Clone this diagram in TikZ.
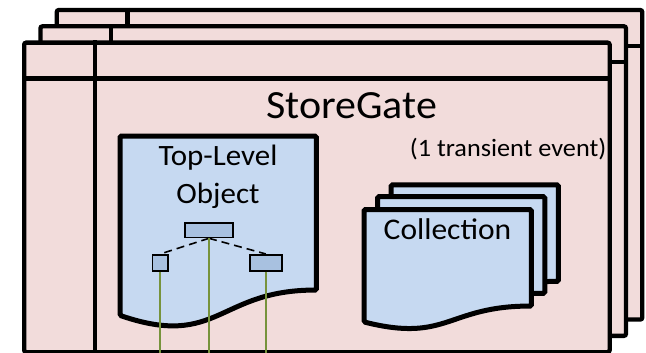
\documentclass[tikz,border=0pt]{standalone}
\usepackage{fontspec}
\setmainfont{Carlito}[FakeStretch=1.05]
\usetikzlibrary{positioning,calc}
\definecolor{sgpink}{RGB}{242,220,219}
\definecolor{docblue}{RGB}{198,217,241}
\definecolor{keyblue}{RGB}{168,193,224}
\definecolor{linkgreen}{RGB}{119,147,60}

% wavy document outline around a named (empty) node
\newcommand{\wavedoc}[1]{%
  \filldraw[doc] (#1.north west) -- (#1.north east)
    -- ($(#1.north east)!0.802!(#1.south east)$)
    .. controls ($(#1.north)!0.802!(#1.south)$) and ($(#1.north)!1.1075!(#1.south)$)
    .. ($(#1.north west)!0.934!(#1.south west)$) -- cycle;}

\begin{document}
\begin{tikzpicture}[
    x=1pt, y=-1pt,
    frame/.style={draw, fill=sgpink, line width=4.3pt, rounded corners=2pt, minimum width=585.5pt, minimum height=309.5pt, anchor=north west, inner sep=0pt},
    divider/.style={line width=4.3pt},
    sheet/.style={inner sep=0pt, anchor=north west},
    doc/.style={draw, fill=docblue, line width=5pt, rounded corners=1.5pt},
    key/.style={draw, fill=keyblue, line width=1.6pt, inner sep=0pt},
    link/.style={draw=linkgreen, line width=2.3pt},
    tree/.style={dash pattern=on 8pt off 5pt, line width=1.6pt}
]
\useasboundingbox (0,0) rectangle (646,353);

% Stacked events
\node[frame] (back) at (54.6,7.9) {};
\draw[divider] ([xshift=73pt]back.north west) -- ([xshift=73pt]back.south west);
\draw[divider] ([yshift=-38pt]back.north west) -- ([yshift=-38pt]back.north east);

\node[frame] (middle) at (38.3,24.2) {};
\draw[divider] ([xshift=73pt]middle.north west) -- ([xshift=73pt]middle.south west);
\draw[divider] ([yshift=-38pt]middle.north west) -- ([yshift=-38pt]middle.north east);

\node[frame] (front) at (22,40.5) {};
\draw[divider] ([xshift=73pt]front.north west) -- ([xshift=73pt]front.south west);
\draw[divider] ([yshift=-38pt]front.north west) -- ([yshift=-38pt]front.north east);

% Titles
\node[font=\fontsize{40}{48}\selectfont, anchor=base, inner sep=0pt] (title) at (351.5,118.3) {StoreGate};
\node[font=\fontsize{25}{30}\selectfont, anchor=base east, inner sep=0pt] (note) at (606.5,156.5) {(1 transient event)};

% Top-level object
\node[sheet, minimum width=196pt, minimum height=191.7pt] (tlo) at (120,136) {};
\wavedoc{tlo}
\node[font=\fontsize{29.5}{37.6}\selectfont, align=center, anchor=base, inner sep=0pt] (tlotext) at (218,203.3) {Top-Level\\Object};

% Collection
\node[sheet, minimum width=167pt, minimum height=120pt] (coll3) at (391,184.8) {};
\node[sheet, minimum width=167pt, minimum height=120pt] (coll2) at (377.5,196.7) {};
\node[sheet, minimum width=167pt, minimum height=120pt] (coll1) at (364,209.5) {};
\wavedoc{coll3}
\wavedoc{coll2}
\wavedoc{coll1}
\node[font=\fontsize{30}{36}\selectfont, anchor=base, inner sep=0pt] (colltext) at (447.5,239) {Collection};

% Members
\node[key, minimum width=48.4pt, minimum height=14.4pt] (root) at (209,230.3) {};
\node[key, minimum width=15.7pt, minimum height=16.1pt] (sub1) at (160.3,262.8) {};
\node[key, minimum width=32pt, minimum height=16.1pt] (sub2) at (265.8,262.8) {};

\draw[tree] (root.south) -- (sub1.north);
\draw[tree] (root.south) -- (sub2.north);

% Links out of the event
\coordinate (cut) at (0,354);
\draw[link] (root.south) -- (root.south |- cut);
\draw[link] (sub1.south) -- (sub1.south |- cut);
\draw[link] (sub2.south) -- (sub2.south |- cut);

\end{tikzpicture}
\end{document}
